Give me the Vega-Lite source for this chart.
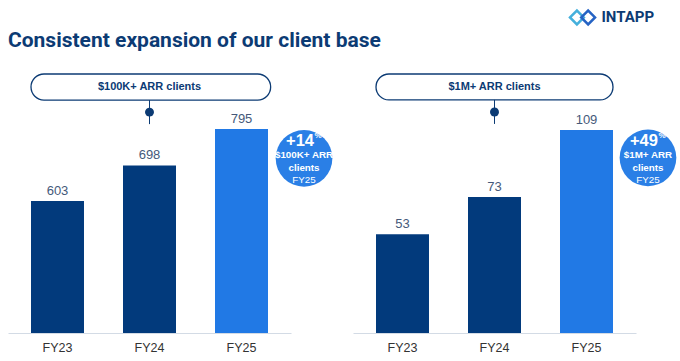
{
  "$schema": "https://vega.github.io/schema/vega-lite/v6.json",
  "padding": {"left": 8, "top": 0, "right": 0, "bottom": 0},
  "background": "white",
  "config": {"view": {"stroke": null}, "font": "Liberation Sans"},
  "spacing": 12,
  "bounds": "flush",
  "resolve": {"scale": {"x": "independent", "y": "independent"}},
  "vconcat": [
    {
      "width": 660,
      "height": 62,
      "data": {"values": [{"title": "Consistent expansion of our client base", "brand": "INTAPP"}]},
      "layer": [
        {
          "mark": {"type": "text", "align": "left", "baseline": "middle", "fontSize": 21, "fontWeight": "bold", "font": "Roboto", "color": "#0c3b74"},
          "encoding": {
            "x": {"datum": 0, "type": "quantitative", "scale": {"domain": [0, 1], "nice": false, "zero": false}, "axis": null},
            "y": {"datum": 0.339, "type": "quantitative", "scale": {"domain": [0, 1], "nice": false, "zero": false}, "axis": null},
            "text": {"field": "title"}
          }
        },
        {
          "mark": {"type": "text", "align": "right", "baseline": "middle", "fontSize": 15, "fontWeight": "bold", "font": "Roboto", "color": "#0c3b74"},
          "encoding": {
            "x": {"datum": 0.979, "type": "quantitative"},
            "y": {"datum": 0.718, "type": "quantitative"},
            "text": {"field": "brand"}
          }
        },
        {
          "mark": {"type": "point", "shape": "diamond", "size": 190, "filled": false, "strokeWidth": 2.5, "color": "#45b0dc", "opacity": 1},
          "encoding": {
            "x": {"datum": 0.862, "type": "quantitative"},
            "y": {"datum": 0.718, "type": "quantitative"}
          }
        },
        {
          "mark": {"type": "point", "shape": "diamond", "size": 190, "filled": false, "strokeWidth": 2.5, "color": "#2563c4", "opacity": 1},
          "encoding": {
            "x": {"datum": 0.879, "type": "quantitative"},
            "y": {"datum": 0.718, "type": "quantitative"}
          }
        }
      ]
    },
    {
      "hconcat": [
        {
          "width": 283,
          "height": 259,
          "layer": [
            {
              "data": {"values": [{"year": "FY23", "clients": 603}, {"year": "FY24", "clients": 698}, {"year": "FY25", "clients": 795}]},
              "layer": [
                {
                  "mark": {"type": "bar"},
                  "encoding": {
                    "x": {"field": "year", "type": "nominal", "sort": null, "scale": {"domain": ["FY23", "FY24", "FY25"], "paddingInner": 0.424, "paddingOuter": 0.25},
                      "axis": {"title": null, "ticks": false, "labelAngle": 0, "labelFontSize": 12.5, "labelColor": "#333333", "labelPadding": 8, "domainColor": "#d3dbe5", "domainWidth": 1.2, "grid": false}},
                    "y": {"field": "clients", "type": "quantitative", "scale": {"domain": [251, 942], "nice": false, "zero": false}, "axis": null},
                    "y2": {"datum": 251},
                    "color": {"field": "year", "type": "nominal", "scale": {"domain": ["FY23", "FY24", "FY25"], "range": ["#023a7c", "#023a7c", "#2179e5"]}, "legend": null}
                  }
                },
                {
                  "mark": {"type": "text", "dy": -10, "baseline": "middle", "fontSize": 13, "color": "#45597a"},
                  "encoding": {
                    "x": {"field": "year", "type": "nominal"},
                    "y": {"field": "clients", "type": "quantitative"},
                    "text": {"field": "clients", "type": "quantitative", "format": "d"}
                  }
                }
              ]
            },
            {
              "data": {"values": [{"segment": "$100K+ ARR clients", "growth": "+14", "line1": "$100K+ ARR", "line2": "clients", "line3": "FY25"}]},
              "layer": [
                {
                  "mark": {"type": "rect", "cornerRadius": 13, "fill": "white", "stroke": "#0c3b74", "strokeWidth": 1.3},
                  "encoding": {
                    "x": {"datum": "FY23", "bandPosition": 0},
                    "x2": {"datum": "FY25", "bandPosition": 1.05},
                    "y": {"datum": 942},
                    "y2": {"datum": 872.3}
                  }
                },
                {
                  "mark": {"type": "text", "fontSize": 11, "fontWeight": "bold", "color": "#0c3b74", "baseline": "middle"},
                  "encoding": {
                    "x": {"datum": "FY24", "bandPosition": 0.5},
                    "y": {"datum": 907},
                    "text": {"field": "segment"}
                  }
                },
                {
                  "mark": {"type": "rule", "color": "#0c3b74", "strokeWidth": 1},
                  "encoding": {
                    "x": {"datum": "FY24", "bandPosition": 0.5},
                    "y": {"datum": 872.3},
                    "y2": {"datum": 808.3}
                  }
                },
                {
                  "mark": {"type": "circle", "size": 80, "color": "#0c3b74", "opacity": 1},
                  "encoding": {
                    "x": {"datum": "FY24", "bandPosition": 0.5},
                    "y": {"datum": 840.3}
                  }
                },
                {
                  "mark": {"type": "circle", "size": 3217, "color": "#2a7fe6", "opacity": 1},
                  "encoding": {
                    "x": {"datum": "FY25", "bandPosition": 1.68},
                    "y": {"datum": 717}
                  }
                },
                {
                  "mark": {"type": "text", "fontSize": 16.5, "fontWeight": "bold", "color": "white", "baseline": "middle", "dx": -4, "dy": -17},
                  "encoding": {
                    "x": {"datum": "FY25", "bandPosition": 1.68},
                    "y": {"datum": 717},
                    "text": {"field": "growth"}
                  }
                },
                {
                  "mark": {"type": "text", "fontSize": 8, "fontWeight": "bold", "color": "white", "baseline": "middle", "align": "left", "dx": 10.5, "dy": -22},
                  "encoding": {
                    "x": {"datum": "FY25", "bandPosition": 1.68},
                    "y": {"datum": 717},
                    "text": {"value": "%"}
                  }
                },
                {
                  "mark": {"type": "text", "fontSize": 9.8, "fontWeight": "bold", "color": "white", "baseline": "middle", "dy": -3},
                  "encoding": {
                    "x": {"datum": "FY25", "bandPosition": 1.68},
                    "y": {"datum": 717},
                    "text": {"field": "line1"}
                  }
                },
                {
                  "mark": {"type": "text", "fontSize": 9.8, "fontWeight": "bold", "color": "white", "baseline": "middle", "dy": 10},
                  "encoding": {
                    "x": {"datum": "FY25", "bandPosition": 1.68},
                    "y": {"datum": 717},
                    "text": {"field": "line2"}
                  }
                },
                {
                  "mark": {"type": "text", "fontSize": 9.8, "color": "white", "baseline": "middle", "dy": 22},
                  "encoding": {
                    "x": {"datum": "FY25", "bandPosition": 1.68},
                    "y": {"datum": 717},
                    "text": {"field": "line3"}
                  }
                }
              ]
            }
          ]
        },
        {
          "width": 283,
          "height": 259,
          "layer": [
            {
              "data": {"values": [{"year": "FY23", "clients": 53}, {"year": "FY24", "clients": 73}, {"year": "FY25", "clients": 109}]},
              "layer": [
                {
                  "mark": {"type": "bar"},
                  "encoding": {
                    "x": {"field": "year", "type": "nominal", "sort": null, "scale": {"domain": ["FY23", "FY24", "FY25"], "paddingInner": 0.424, "paddingOuter": 0.25},
                      "axis": {"title": null, "ticks": false, "labelAngle": 0, "labelFontSize": 12.5, "labelColor": "#333333", "labelPadding": 8, "domainColor": "#d3dbe5", "domainWidth": 1.2, "grid": false}},
                    "y": {"field": "clients", "type": "quantitative", "scale": {"domain": [0, 139], "nice": false, "zero": false}, "axis": null},
                    "y2": {"datum": 0},
                    "color": {"field": "year", "type": "nominal", "scale": {"domain": ["FY23", "FY24", "FY25"], "range": ["#023a7c", "#023a7c", "#2179e5"]}, "legend": null}
                  }
                },
                {
                  "mark": {"type": "text", "dy": -10, "baseline": "middle", "fontSize": 13, "color": "#45597a"},
                  "encoding": {
                    "x": {"field": "year", "type": "nominal"},
                    "y": {"field": "clients", "type": "quantitative"},
                    "text": {"field": "clients", "type": "quantitative", "format": "d"}
                  }
                }
              ]
            },
            {
              "data": {"values": [{"segment": "$1M+ ARR clients", "growth": "+49", "line1": "$1M+ ARR", "line2": "clients", "line3": "FY25"}]},
              "layer": [
                {
                  "mark": {"type": "rect", "cornerRadius": 13, "fill": "white", "stroke": "#0c3b74", "strokeWidth": 1.3},
                  "encoding": {
                    "x": {"datum": "FY23", "bandPosition": 0},
                    "x2": {"datum": "FY25", "bandPosition": 1.0},
                    "y": {"datum": 139},
                    "y2": {"datum": 125.1}
                  }
                },
                {
                  "mark": {"type": "text", "fontSize": 11, "fontWeight": "bold", "color": "#0c3b74", "baseline": "middle"},
                  "encoding": {
                    "x": {"datum": "FY24", "bandPosition": 0.5},
                    "y": {"datum": 132.0},
                    "text": {"field": "segment"}
                  }
                },
                {
                  "mark": {"type": "rule", "color": "#0c3b74", "strokeWidth": 1},
                  "encoding": {
                    "x": {"datum": "FY24", "bandPosition": 0.5},
                    "y": {"datum": 125.1},
                    "y2": {"datum": 112.2}
                  }
                },
                {
                  "mark": {"type": "circle", "size": 80, "color": "#0c3b74", "opacity": 1},
                  "encoding": {
                    "x": {"datum": "FY24", "bandPosition": 0.5},
                    "y": {"datum": 118.6}
                  }
                },
                {
                  "mark": {"type": "circle", "size": 3217, "color": "#2a7fe6", "opacity": 1},
                  "encoding": {
                    "x": {"datum": "FY25", "bandPosition": 1.66},
                    "y": {"datum": 94}
                  }
                },
                {
                  "mark": {"type": "text", "fontSize": 16.5, "fontWeight": "bold", "color": "white", "baseline": "middle", "dx": -4, "dy": -17},
                  "encoding": {
                    "x": {"datum": "FY25", "bandPosition": 1.66},
                    "y": {"datum": 94},
                    "text": {"field": "growth"}
                  }
                },
                {
                  "mark": {"type": "text", "fontSize": 8, "fontWeight": "bold", "color": "white", "baseline": "middle", "align": "left", "dx": 10.5, "dy": -22},
                  "encoding": {
                    "x": {"datum": "FY25", "bandPosition": 1.66},
                    "y": {"datum": 94},
                    "text": {"value": "%"}
                  }
                },
                {
                  "mark": {"type": "text", "fontSize": 9.8, "fontWeight": "bold", "color": "white", "baseline": "middle", "dy": -3},
                  "encoding": {
                    "x": {"datum": "FY25", "bandPosition": 1.66},
                    "y": {"datum": 94},
                    "text": {"field": "line1"}
                  }
                },
                {
                  "mark": {"type": "text", "fontSize": 9.8, "fontWeight": "bold", "color": "white", "baseline": "middle", "dy": 10},
                  "encoding": {
                    "x": {"datum": "FY25", "bandPosition": 1.66},
                    "y": {"datum": 94},
                    "text": {"field": "line2"}
                  }
                },
                {
                  "mark": {"type": "text", "fontSize": 9.8, "color": "white", "baseline": "middle", "dy": 22},
                  "encoding": {
                    "x": {"datum": "FY25", "bandPosition": 1.66},
                    "y": {"datum": 94},
                    "text": {"field": "line3"}
                  }
                }
              ]
            }
          ]
        }
      ],
      "spacing": 62,
      "bounds": "flush",
      "resolve": {"scale": {"x": "independent", "y": "independent"}}
    }
  ]
}
